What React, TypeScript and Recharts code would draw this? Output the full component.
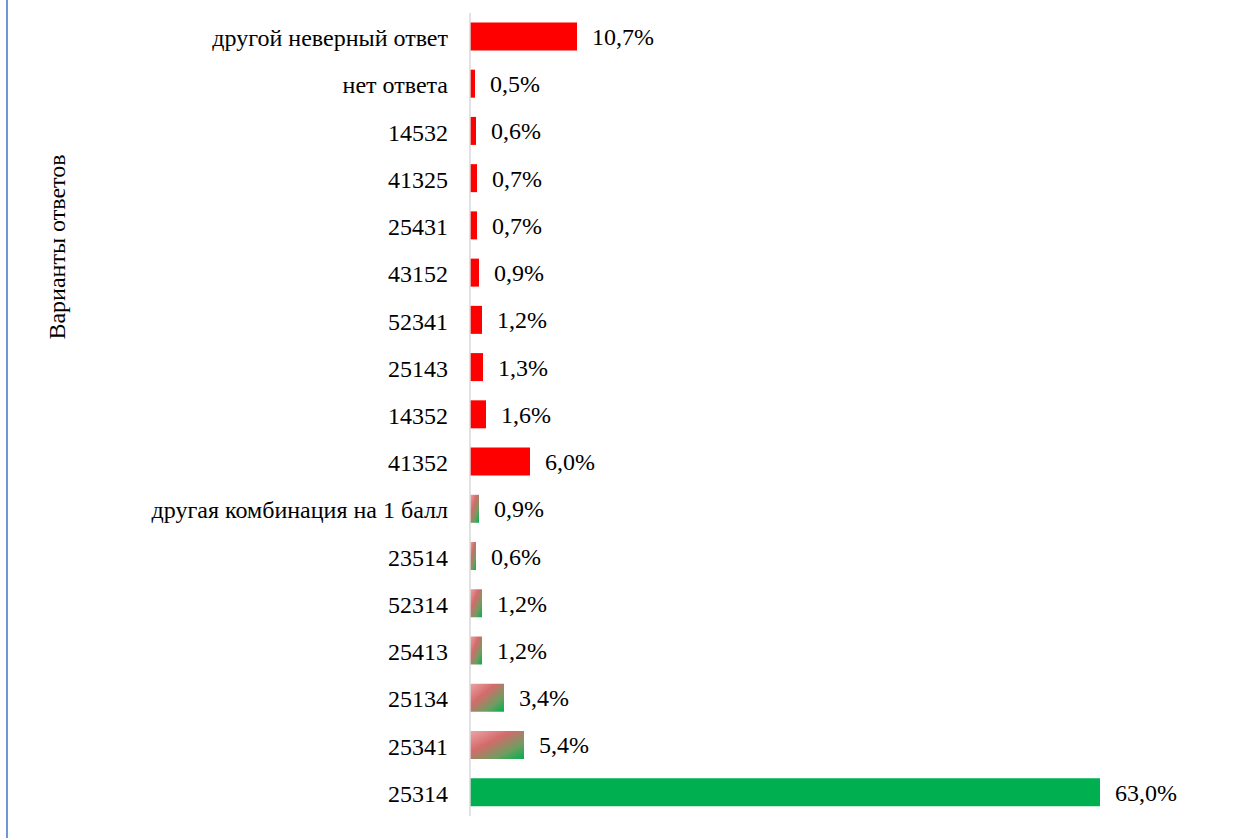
import { Bar, BarChart, Cell, LabelList, XAxis, YAxis } from 'recharts';

const categories = [
  'другой неверный ответ',
  'нет ответа',
  '14532',
  '41325',
  '25431',
  '43152',
  '52341',
  '25143',
  '14352',
  '41352',
  'другая комбинация на 1 балл',
  '23514',
  '52314',
  '25413',
  '25134',
  '25341',
  '25314',
];

const shares = [10.7, 0.5, 0.6, 0.7, 0.7, 0.9, 1.2, 1.3, 1.6, 6.0, 0.9, 0.6, 1.2, 1.2, 3.4, 5.4, 63.0];

// 0 = неверно, 1 = частично (1 балл), 2 = верно
const scoreKind = [0, 0, 0, 0, 0, 0, 0, 0, 0, 0, 1, 1, 1, 1, 1, 1, 2];

const fillFor = (kind: number) =>
  kind === 0 ? '#ff0000' : kind === 2 ? '#00b050' : 'url(#partialGrad)';

const fmt = (v: number) => `${v.toFixed(1).replace('.', ',')}%`;

const font = '"Liberation Serif", "Times New Roman", serif';
const fs = 24;

export default function App() {
  const data = categories.map((name, i) => ({
    name,
    value: shares[i],
    kind: scoreKind[i],
  }));

  return (
    <div
      style={{
        position: 'fixed',
        left: 0,
        top: 0,
        width: 1233,
        height: 838,
        background: '#fff',
        fontFamily: font,
      }}
    >
      <div
        style={{
          position: 'absolute',
          left: 6,
          top: 0,
          width: 2,
          height: 838,
          background: '#6f97d6',
        }}
      />
      <BarChart
        width={1233}
        height={838}
        data={data}
        layout="vertical"
        margin={{ top: 13, right: 63, bottom: 22, left: 0 }}
        barCategoryGap="20%"
        style={{ fontFamily: font }}
      >
        <defs>
          <linearGradient id="partialGrad" x1="0" y1="0" x2="1" y2="1">
            <stop offset="0%" stopColor="#eaa6a6" />
            <stop offset="38%" stopColor="#d46b6b" />
            <stop offset="72%" stopColor="#6f9d60" />
            <stop offset="100%" stopColor="#00b050" />
          </linearGradient>
        </defs>
        <XAxis type="number" domain={[0, 70]} hide />
        <YAxis
          type="category"
          dataKey="name"
          width={470}
          axisLine={{ stroke: '#d9d9d9', strokeWidth: 1.5 }}
          tickLine={false}
          tickSize={0}
          tickMargin={22}
          interval={0}
          tick={{ fontSize: fs, fill: '#000', fontFamily: font, dy: 1 }}
          label={{
            content: () => (
              <text
                x={0}
                y={0}
                transform="translate(65,247) rotate(-90)"
                textAnchor="middle"
                fontSize={fs}
                fontFamily={font}
                fill="#000"
              >
                Варианты ответов
              </text>
            ),
          }}
        />
        <Bar dataKey="value" isAnimationActive={false}>
          {data.map((d, i) => (
            <Cell key={`cell-${i}`} fill={fillFor(d.kind)} />
          ))}
          <LabelList
            dataKey="value"
            position="right"
            offset={15}
            formatter={(v: any) => fmt(Number(v))}
            style={{ fontSize: fs, fill: '#000', fontFamily: font }}
          />
        </Bar>
      </BarChart>
    </div>
  );
}
